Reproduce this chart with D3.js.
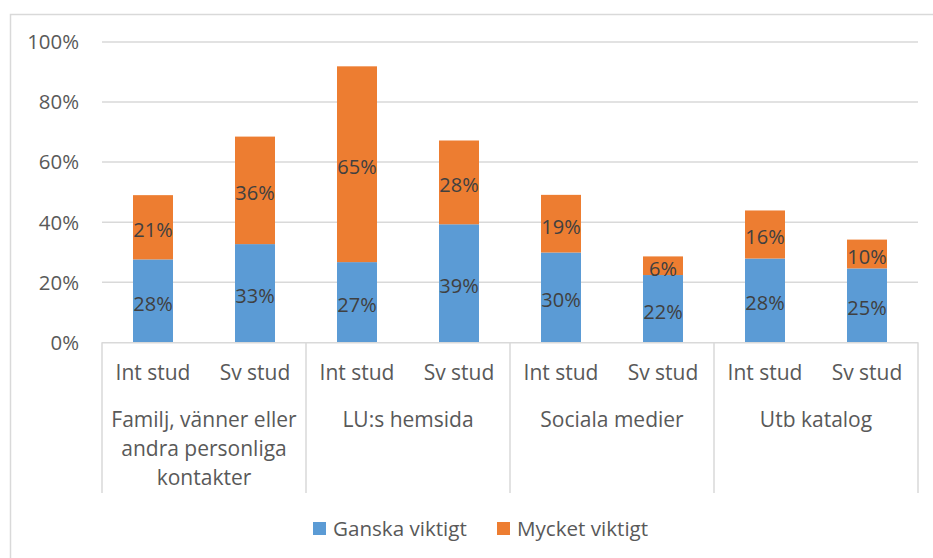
<!DOCTYPE html>
<html>
<head>
<meta charset="utf-8">
<script src="https://cdn.jsdelivr.net/npm/d3@7"></script>
<style>
  body { margin: 0; background: #fff; }
  text { font-family: "Open Sans", "Liberation Sans", sans-serif; }
</style>
</head>
<body>
<div id="chart"></div>
<script>
/* DATA */
const groups = ["Familj, vänner eller andra personliga kontakter", "LU:s hemsida", "Sociala medier", "Utb katalog"];
const groupLines = [["Familj, vänner eller", "andra personliga", "kontakter"], ["LU:s hemsida"], ["Sociala medier"], ["Utb katalog"]];
const subCats = ["Int stud", "Sv stud"];
const seriesNames = ["Ganska viktigt", "Mycket viktigt"];
// values per bar, order: group1 Int, group1 Sv, group2 Int, ...
const ganska = [27.6, 32.7, 26.7, 39.3, 29.9, 22.4, 27.9, 24.6];
const mycket = [21.4, 35.8, 65.2, 27.9, 19.2, 6.2, 16.0, 9.6];
const yTicks = [0, 20, 40, 60, 80, 100];

/* CONSTANTS */
const width = 933, height = 558;
const colors = ["#5B9BD5", "#ED7D31"];
const gridColor = "#D9D9D9";
const textColor = "#595959";
const fontSize = 20;
const catFontSize = 21; // category labels look a bit wider in the original
const plot = {left: 102, right: 918, top: 42, bottom: 342.3};

const svg = d3.select("#chart").append("svg")
  .attr("width", width)
  .attr("height", height);

// chart frame (runs off the right/bottom of the picture)
svg.append("rect")
  .attr("x", 10.5).attr("y", 14.5)
  .attr("width", width + 20).attr("height", height + 20)
  .attr("fill", "none")
  .attr("stroke", gridColor)
  .attr("stroke-width", 1.5);

// scales
const y = d3.scaleLinear().domain([0, 100]).range([plot.bottom, plot.top]);
const x0 = d3.scaleBand().domain(groups).range([plot.left, plot.right]).padding(0);
const x1 = d3.scaleBand().domain(subCats).range([0, x0.bandwidth()])
  .paddingInner(0.608).paddingOuter(0.304);

// build bar rows
const rows = [];
groups.forEach((g, gi) => {
  subCats.forEach((s, si) => {
    const i = gi * 2 + si;
    rows.push({group: g, sub: s, values: [ganska[i], mycket[i]]});
  });
});

// gridlines
svg.append("g")
  .selectAll("line")
  .data(yTicks.filter(t => t > 0))
  .join("line")
  .attr("x1", plot.left).attr("x2", plot.right)
  .attr("y1", d => y(d)).attr("y2", d => y(d))
  .attr("stroke", gridColor)
  .attr("stroke-width", 1.5);

// y tick labels
svg.append("g")
  .selectAll("text")
  .data(yTicks)
  .join("text")
  .attr("x", 79)
  .attr("y", d => y(d))
  .attr("dy", "0.36em")
  .attr("text-anchor", "end")
  .attr("font-size", 20.4)
  .attr("fill", textColor)
  .text(d => d + "%");

// stacked bars
const barG = svg.append("g");
rows.forEach(r => {
  let base = 0;
  r.values.forEach((v, k) => {
    const bx = x0(r.group) + x1(r.sub);
    barG.append("rect")
      .attr("x", bx)
      .attr("y", y(base + v))
      .attr("width", x1.bandwidth())
      .attr("height", y(base) - y(base + v))
      .attr("fill", colors[k]);
    barG.append("text")
      .attr("x", bx + x1.bandwidth() / 2)
      .attr("y", (y(base) + y(base + v)) / 2)
      .attr("dy", "0.5em")
      .attr("text-anchor", "middle")
      .attr("font-size", fontSize)
      .attr("fill", "#404040")
      .text(Math.round(v) + "%");
    base += v;
  });
});

// category axis line
svg.append("line")
  .attr("x1", plot.left).attr("x2", plot.right)
  .attr("y1", plot.bottom + 0.5).attr("y2", plot.bottom + 0.5)
  .attr("stroke", gridColor)
  .attr("stroke-width", 1.5);

// group separators
const seps = groups.map(g => x0(g)).concat([plot.right]);
svg.append("g")
  .selectAll("line")
  .data(seps)
  .join("line")
  .attr("x1", d => d).attr("x2", d => d)
  .attr("y1", plot.bottom).attr("y2", 493)
  .attr("stroke", gridColor)
  .attr("stroke-width", 1.5);

// sub-category labels
svg.append("g")
  .selectAll("text")
  .data(rows)
  .join("text")
  .attr("x", d => x0(d.group) + x1(d.sub) + x1.bandwidth() / 2)
  .attr("y", 380)
  .attr("text-anchor", "middle")
  .attr("font-size", catFontSize)
  .attr("fill", textColor)
  .text(d => d.sub);

// group labels (wrapped)
groups.forEach((g, gi) => {
  const t = svg.append("text")
    .attr("text-anchor", "middle")
    .attr("font-size", catFontSize)
    .attr("fill", textColor);
  groupLines[gi].forEach((line, li) => {
    t.append("tspan")
      .attr("x", x0(g) + x0.bandwidth() / 2)
      .attr("y", 427 + li * 29)
      .text(line);
  });
});

// legend
const legendX = [313, 497];
const legend = svg.append("g");
seriesNames.forEach((name, i) => {
  legend.append("rect")
    .attr("x", legendX[i]).attr("y", 522)
    .attr("width", 13).attr("height", 13)
    .attr("fill", colors[i]);
  legend.append("text")
    .attr("x", legendX[i] + 20)
    .attr("y", 529)
    .attr("dy", "0.36em")
    .attr("font-size", 20.6)
    .attr("fill", textColor)
    .text(name);
});
</script>
</body>
</html>
